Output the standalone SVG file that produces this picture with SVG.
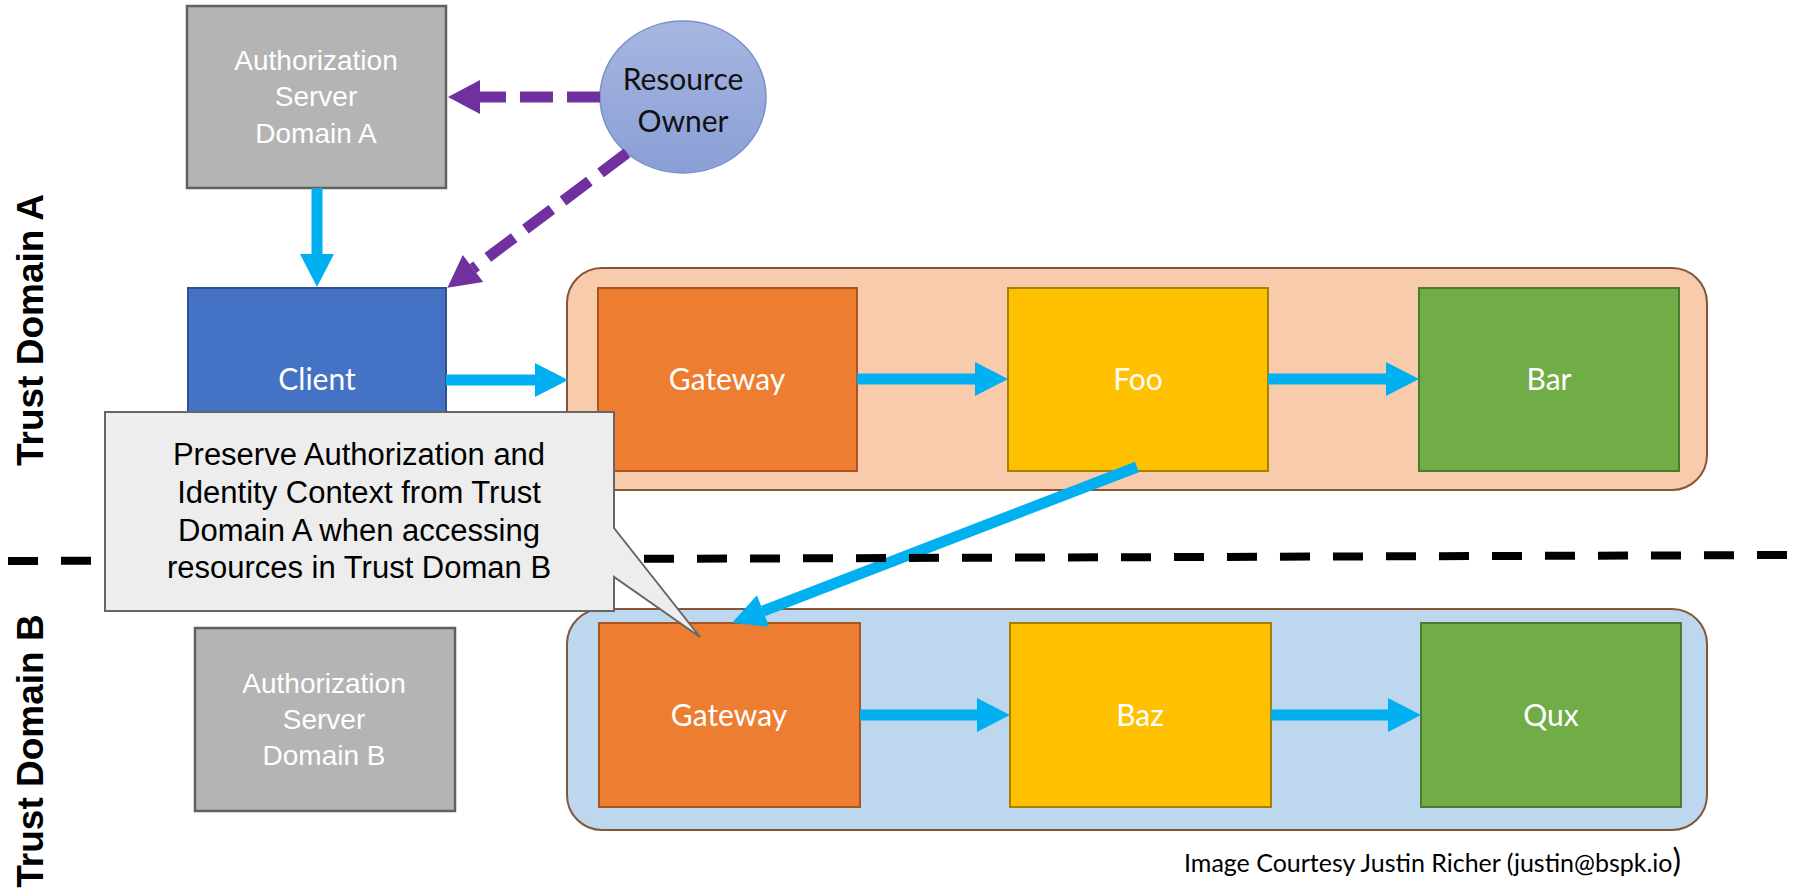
<svg xmlns="http://www.w3.org/2000/svg" width="1793" height="891" viewBox="0 0 1793 891">
<style>
.auth{fill:#b4b4b4;stroke:#606060;stroke-width:2.5}
.authtxt{font-family:"Liberation Sans",Arial,sans-serif;font-size:28px;fill:#ffffff;text-anchor:middle}
.box{stroke-width:2}
.lbl{font-family:Lato,"Open Sans",sans-serif;font-size:30px;fill:#ffffff;text-anchor:middle}
.cont{stroke:#845637;stroke-width:2}
.side{font-family:"Liberation Sans",Arial,sans-serif;font-weight:bold;font-size:37px;fill:#000;text-anchor:middle}
.blue{stroke:#00b0f0;stroke-width:11;fill:none}
.purple{stroke:#7030a0;stroke-width:11;fill:none;stroke-dasharray:33 14}
.call{font-family:"Liberation Sans",Arial,sans-serif;font-size:31px;fill:#000;text-anchor:middle}
.ro{font-family:Lato,"Open Sans",sans-serif;font-size:30px;fill:#111;text-anchor:middle}
</style>
<defs>
<marker id="ab" markerUnits="userSpaceOnUse" markerWidth="34" markerHeight="34" refX="0" refY="17" orient="auto" overflow="visible">
<path d="M0,0 L33,17 L0,34 Z" fill="#00b0f0"/>
</marker>
<marker id="ap" markerUnits="userSpaceOnUse" markerWidth="34" markerHeight="34" refX="0" refY="17" orient="auto" overflow="visible">
<path d="M0,0 L32,17 L0,34 Z" fill="#7030a0"/>
</marker>
<linearGradient id="ro" x1="0" y1="0" x2="0" y2="1">
<stop offset="0" stop-color="#a7b6e0"/>
<stop offset="1" stop-color="#8a9fd6"/>
</linearGradient>
</defs>
<rect width="1793" height="891" fill="#ffffff"/>

<g id="labels">
<text class="side" transform="translate(43,330) rotate(-90)">Trust Domain A</text>
<text class="side" transform="translate(43,751) rotate(-90)">Trust Domain B</text>
</g>

<g id="container-a"><rect class="cont" x="567" y="268" width="1140" height="222" rx="35" fill="#f8cbad"/></g>
<g id="container-b"><rect class="cont" x="567" y="609" width="1140" height="221" rx="35" fill="#bdd7ee"/></g>

<g id="auth-a">
<rect class="auth" x="187" y="6" width="259" height="182"/>
<text class="authtxt" x="316" y="70">Authorization</text>
<text class="authtxt" x="316" y="106">Server</text>
<text class="authtxt" x="316" y="143">Domain A</text>
</g>
<g id="resource-owner">
<ellipse cx="683" cy="97" rx="83" ry="76" fill="url(#ro)" stroke="#7890cc" stroke-width="1.5"/>
<text class="ro" x="683" y="90">Resource</text>
<text class="ro" x="683" y="132">Owner</text>
</g>
<g id="client">
<rect class="box" x="188" y="288" width="258" height="183" fill="#4472c4" stroke="#2f528f"/>
<text class="lbl" x="317" y="390">Client</text>
</g>
<g id="gateway-a">
<rect class="box" x="598" y="288" width="259" height="183" fill="#ed7d31" stroke="#a9541c"/>
<text class="lbl" x="727" y="390">Gateway</text>
</g>
<g id="foo">
<rect class="box" x="1008" y="288" width="260" height="183" fill="#ffc000" stroke="#a88000"/>
<text class="lbl" x="1138" y="390">Foo</text>
</g>
<g id="bar">
<rect class="box" x="1419" y="288" width="260" height="183" fill="#70ad47" stroke="#4e7a30"/>
<text class="lbl" x="1549" y="390">Bar</text>
</g>
<g id="auth-b">
<rect class="auth" x="195" y="628" width="260" height="183"/>
<text class="authtxt" x="324" y="693">Authorization</text>
<text class="authtxt" x="324" y="729">Server</text>
<text class="authtxt" x="324" y="765">Domain B</text>
</g>
<g id="gateway-b">
<rect class="box" x="599" y="623" width="261" height="184" fill="#ed7d31" stroke="#a9541c"/>
<text class="lbl" x="729" y="726">Gateway</text>
</g>
<g id="baz">
<rect class="box" x="1010" y="623" width="261" height="184" fill="#ffc000" stroke="#a88000"/>
<text class="lbl" x="1140" y="726">Baz</text>
</g>
<g id="qux">
<rect class="box" x="1421" y="623" width="260" height="184" fill="#70ad47" stroke="#4e7a30"/>
<text class="lbl" x="1551" y="726">Qux</text>
</g>

<g id="connectors">
<line class="purple" x1="600" y1="97" x2="480" y2="97" marker-end="url(#ap)"/>
<line class="purple" x1="627" y1="153" x2="473" y2="268.5" marker-end="url(#ap)"/>
<line class="blue" x1="317" y1="188" x2="317" y2="254" marker-end="url(#ab)"/>
<line class="blue" x1="446" y1="380" x2="535" y2="380" marker-end="url(#ab)"/>
<line class="blue" x1="857" y1="379" x2="975" y2="379" marker-end="url(#ab)"/>
<line class="blue" x1="1268" y1="379" x2="1386" y2="379" marker-end="url(#ab)"/>
<line class="blue" x1="1137" y1="467" x2="763" y2="611" marker-end="url(#ab)"/>
<line class="blue" x1="860" y1="715" x2="977" y2="715" marker-end="url(#ab)"/>
<line class="blue" x1="1271" y1="715" x2="1388" y2="715" marker-end="url(#ab)"/>
</g>

<g id="separator">
<line x1="8" y1="561" x2="1793" y2="555" stroke="#000" stroke-width="8" stroke-dasharray="30 23"/>
</g>

<g id="callout">
<path d="M105,412 H614 V528 L700,637 L614,577 V611 H105 Z" fill="#ededed" stroke="#666" stroke-width="2"/>
<text class="call" x="359" y="465">Preserve Authorization and</text>
<text class="call" x="359" y="503">Identity Context from Trust</text>
<text class="call" x="359" y="541">Domain A when accessing</text>
<text class="call" x="359" y="578">resources in Trust Doman B</text>
</g>

<g id="caption">
<text x="1184" y="872" font-family="Lato,'Open Sans',sans-serif" font-size="25" fill="#000">Image Courtesy Justin Richer (justin@bspk.io<tspan font-size="32">)</tspan></text>
</g>
</svg>
